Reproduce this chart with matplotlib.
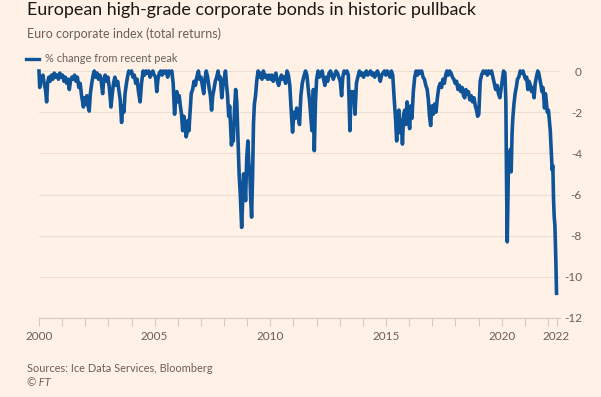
import numpy as np
import matplotlib.pyplot as plt

plt.rcParams['font.family'] = ['Lato', 'DejaVu Sans']

# decimal year and % change from recent peak
dates = [
    2000.00, 2000.03, 2000.07, 2000.12, 2000.17, 2000.22, 2000.28, 2000.33, 2000.37, 2000.42,
    2000.48, 2000.54, 2000.60, 2000.66, 2000.72, 2000.78, 2000.84, 2000.90, 2000.96,
    2001.02, 2001.08, 2001.14, 2001.20, 2001.26, 2001.31, 2001.36, 2001.42, 2001.48, 2001.54,
    2001.60, 2001.66, 2001.72, 2001.78, 2001.84, 2001.92, 2001.97,
    2002.02, 2002.07, 2002.12, 2002.17, 2002.22, 2002.28, 2002.34, 2002.39, 2002.45, 2002.51,
    2002.57, 2002.63, 2002.69, 2002.75, 2002.80, 2002.86, 2002.92, 2002.98,
    2003.04, 2003.11, 2003.16, 2003.22, 2003.28, 2003.34, 2003.40, 2003.46, 2003.51, 2003.57,
    2003.62, 2003.67, 2003.72, 2003.78, 2003.84, 2003.88, 2003.94,
    2004.00, 2004.06, 2004.12, 2004.18, 2004.24, 2004.30, 2004.37, 2004.43, 2004.50, 2004.56,
    2004.62, 2004.68, 2004.74, 2004.80, 2004.86, 2004.92, 2004.98,
    2005.04, 2005.09, 2005.14, 2005.20, 2005.26, 2005.32, 2005.38, 2005.44, 2005.50, 2005.56,
    2005.62, 2005.68, 2005.74, 2005.80, 2005.86, 2005.91, 2005.96,
    2006.01, 2006.06, 2006.11, 2006.16, 2006.21, 2006.26, 2006.31, 2006.36, 2006.40, 2006.44,
    2006.48, 2006.53, 2006.58, 2006.64, 2006.70, 2006.76, 2006.82, 2006.89, 2006.94,
    2007.00, 2007.06, 2007.12, 2007.17, 2007.23, 2007.29, 2007.35, 2007.41, 2007.46, 2007.51,
    2007.56, 2007.62, 2007.68, 2007.74, 2007.79, 2007.84, 2007.90, 2007.96,
    2008.02, 2008.06, 2008.10, 2008.15, 2008.20, 2008.24, 2008.28, 2008.32, 2008.36, 2008.40,
    2008.45, 2008.50, 2008.55, 2008.60, 2008.65, 2008.70, 2008.76, 2008.80, 2008.84, 2008.88,
    2008.93, 2008.98,
    2009.03, 2009.07, 2009.11, 2009.15, 2009.19, 2009.23, 2009.27, 2009.31, 2009.36, 2009.41,
    2009.47, 2009.53, 2009.58, 2009.64, 2009.70, 2009.76, 2009.82, 2009.88, 2009.94,
    2010.00, 2010.06, 2010.12, 2010.18, 2010.24, 2010.30, 2010.36, 2010.42, 2010.48, 2010.54,
    2010.60, 2010.66, 2010.72, 2010.78, 2010.84, 2010.90, 2010.96,
    2011.02, 2011.08, 2011.14, 2011.20, 2011.26, 2011.32, 2011.38, 2011.44, 2011.52, 2011.58,
    2011.64, 2011.70, 2011.76, 2011.80, 2011.84, 2011.86, 2011.90, 2011.95,
    2012.00, 2012.06, 2012.12, 2012.18, 2012.24, 2012.30, 2012.36, 2012.42, 2012.48, 2012.54,
    2012.60, 2012.66, 2012.72, 2012.78, 2012.84, 2012.90, 2012.96,
    2013.02, 2013.08, 2013.13, 2013.19, 2013.25, 2013.31, 2013.37, 2013.44, 2013.49, 2013.54,
    2013.60, 2013.66, 2013.72, 2013.78, 2013.85, 2013.91, 2013.97,
    2014.03, 2014.09, 2014.15, 2014.21, 2014.27, 2014.33, 2014.39, 2014.45, 2014.51, 2014.57,
    2014.63, 2014.69, 2014.75, 2014.81, 2014.87, 2014.93, 2014.99,
    2015.05, 2015.11, 2015.17, 2015.23, 2015.29, 2015.35, 2015.41, 2015.46, 2015.51, 2015.56,
    2015.61, 2015.66, 2015.71, 2015.76, 2015.81, 2015.86, 2015.91, 2015.96,
    2016.02, 2016.07, 2016.12, 2016.18, 2016.24, 2016.30, 2016.36, 2016.42, 2016.48, 2016.54,
    2016.60, 2016.66, 2016.72, 2016.78, 2016.83, 2016.88, 2016.93, 2016.98,
    2017.04, 2017.10, 2017.16, 2017.22, 2017.28, 2017.34, 2017.40, 2017.46, 2017.52, 2017.58,
    2017.63, 2017.69, 2017.75, 2017.81, 2017.87, 2017.93, 2017.99,
    2018.05, 2018.11, 2018.17, 2018.23, 2018.29, 2018.35, 2018.40, 2018.45, 2018.50, 2018.56,
    2018.62, 2018.68, 2018.74, 2018.80, 2018.86, 2018.91, 2018.96,
    2019.01, 2019.07, 2019.13, 2019.20, 2019.26, 2019.32, 2019.38, 2019.44, 2019.50, 2019.56,
    2019.62, 2019.68, 2019.74, 2019.80, 2019.86, 2019.92, 2019.97,
    2020.03, 2020.08, 2020.14, 2020.18, 2020.21, 2020.24, 2020.27, 2020.30, 2020.34, 2020.38,
    2020.41, 2020.45, 2020.48, 2020.53, 2020.58, 2020.63, 2020.68, 2020.74, 2020.80, 2020.86,
    2020.92, 2020.97,
    2021.03, 2021.08, 2021.13, 2021.18, 2021.24, 2021.29, 2021.35, 2021.40, 2021.45, 2021.50,
    2021.56, 2021.60, 2021.65, 2021.70, 2021.74, 2021.78, 2021.82, 2021.85, 2021.89, 2021.93,
    2021.97,
    2022.02, 2022.06, 2022.10, 2022.14, 2022.18, 2022.21, 2022.24, 2022.27, 2022.30, 2022.34,
    2022.37,
]
drawdown = [
    0.0, -0.8, -0.3, -0.5, -0.2, -0.6, -0.9, -1.5, -0.6, -0.3,
    -0.5, -0.2, -0.4, -0.1, -0.3, -0.2, -0.4, -0.1, -0.3,
    -0.2, -0.5, -0.3, -0.6, -0.4, -0.9, -0.5, -0.3, -0.4, -0.2,
    -0.5, -0.3, -0.8, -0.6, -1.2, -1.75, -1.3,
    -1.6, -1.2, -1.7, -1.95, -1.1, -0.6, -0.2, 0.0, -0.3, -0.1,
    -0.4, -0.2, -0.5, -1.1, -0.4, -0.2, -0.5, -0.3,
    -0.8, -1.75, -1.2, -0.6, -0.3, -0.7, -0.5, -1.0, -1.4, -2.5,
    -1.7, -2.0, -1.1, -0.6, -0.2, 0.0, -0.1,
    0.0, -0.3, -0.2, -0.6, -0.4, -1.0, -1.5, -0.6, 0.0, -0.2,
    0.0, -0.1, 0.0, -0.3, -0.1, 0.0, -0.2,
    -0.3, -1.0, -0.4, -0.1, 0.0, -0.2, 0.0, -0.1, 0.0, -0.3,
    0.0, -0.1, 0.0, -0.6, -2.1, -1.3, -1.0,
    -1.5, -1.2, -1.7, -2.1, -2.9, -2.2, -2.6, -3.2, -3.0, -2.4,
    -2.9, -2.0, -1.1, -0.9, -0.5, -0.7, -0.3, 0.0, -0.4,
    -0.3, -0.7, -1.1, -0.4, 0.0, -0.3, -0.8, -1.2, -1.9, -1.2,
    -0.9, -0.5, -0.3, 0.0, -0.4, -0.3, -1.3, -0.6,
    -0.3, 0.0, -0.6, -1.2, -2.2, -1.7, -2.6, -3.6, -2.9, -3.4,
    -1.9, -0.9, -1.5, -3.2, -5.0, -6.0, -7.6, -6.4, -5.0, -5.3,
    -6.3, -4.2,
    -3.4, -4.5, -4.9, -6.2, -7.1, -5.2, -2.6, -1.6, -1.2, -0.5,
    0.0, -0.3, -0.1, -0.4, 0.0, -0.3, -0.2, -0.4, -0.2,
    -0.4, -0.2, -0.5, -0.3, -0.1, -0.5, -0.7, -0.4, -0.2, -0.4,
    -0.3, -0.6, 0.0, -0.2, -0.7, -1.9, -2.97,
    -2.0, -2.3, -1.8, -2.2, -2.6, -1.2, -0.6, -0.3, 0.0, -0.2,
    -0.9, -1.5, -2.4, -2.9, -1.9, -0.9, -3.87, -1.5,
    -0.4, 0.0, -0.3, -0.1, 0.0, -0.4, -0.7, -0.3, -0.5, -0.1,
    0.0, -0.2, -0.4, -0.2, 0.0, -0.1, -0.3,
    -0.5, -1.2, -0.3, 0.0, -0.1, 0.0, -0.2, -2.9, -1.0, -1.3,
    -1.0, -2.1, -0.6, -0.3, 0.0, -0.2, -0.1,
    -0.3, -0.1, 0.0, -0.2, -0.1, 0.0, -0.2, -0.1, -0.3, -0.1,
    0.0, -0.2, -0.5, -0.2, -0.1, 0.0, -0.2,
    0.0, -0.1, -0.3, 0.0, -0.2, -1.3, -2.3, -3.4, -2.0, -1.9,
    -3.0, -2.4, -3.55, -2.1, -1.9, -2.6, -1.5, -2.0,
    -2.8, -1.7, -2.3, -1.0, -0.3, 0.0, -0.2, 0.0, -0.1, 0.0,
    -0.3, -0.4, -0.7, -0.9, -1.4, -2.2, -2.65, -1.7,
    -2.1, -1.6, -2.0, -1.3, -0.8, -0.6, -0.8, -0.4, -0.6, -0.2,
    0.0, -0.2, 0.0, -0.1, -0.3, -0.4, -0.6,
    -0.5, -0.9, -0.7, -1.0, -0.8, -1.2, -1.3, -0.9, -1.1, -1.0,
    -1.4, -1.2, -1.5, -1.3, -1.7, -1.9, -2.2,
    -2.1, -0.5, -0.2, 0.0, -0.1, 0.0, -0.2, 0.0, -0.1, 0.0,
    -0.3, -0.6, -0.9, -0.7, -1.1, -1.3, -0.9,
    -0.4, 0.0, -0.1, -1.5, -5.5, -8.3, -6.0, -4.0, -4.2, -3.8,
    -4.9, -3.0, -2.3, -1.6, -1.1, -0.8, -0.4, -0.3, 0.0, -0.1,
    0.0, -0.2,
    -0.4, -0.3, -0.9, -0.5, -0.7, -1.0, -0.8, -1.3, -0.6, -0.3,
    0.0, -0.1, -0.4, -0.7, -1.0, -0.8, -1.3, -1.8, -1.1, -1.5,
    -2.0,
    -1.9, -2.4, -2.9, -3.8, -4.8, -4.6, -6.2, -7.1, -7.5, -9.2,
    -10.8,
]

y_ticks = [0, -2, -4, -6, -8, -10, -12]
x_label_pos = [2000, 2005, 2010, 2015, 2020, 2022.37]
x_labels = ['2000', '2005', '2010', '2015', '2020', '2022']

bg = '#fff1e5'
grey = '#66605c'

fig = plt.figure(figsize=(6.01, 3.97), dpi=100, facecolor=bg)
ax = fig.add_axes([39 / 601, 1 - 318 / 397, (560 - 39) / 601, (318 - 71) / 397])
ax.set_facecolor(bg)

ax.plot(dates, drawdown, color='#0f5499', lw=2.6, clip_on=False, zorder=3,
        solid_joinstyle='round')

ax.set_xlim(2000, 2022.52)
ax.set_ylim(-12, 0)

for s in ['top', 'left', 'right']:
    ax.spines[s].set_visible(False)
ax.spines['bottom'].set_color('#d6cbc1')
ax.spines['bottom'].set_linewidth(0.8)

ax.yaxis.tick_right()
ax.set_yticks(y_ticks)
ax.set_yticklabels([str(v) for v in y_ticks])
ax.tick_params(axis='y', length=0, pad=15.8, labelsize=8.5, labelcolor=grey)
for lab in ax.get_yticklabels():
    lab.set_horizontalalignment('right')
ax.grid(axis='y', color='#ebdfd4', lw=0.8)

ax.set_xticks(x_label_pos)
ax.set_xticklabels(x_labels)
ax.set_xticks(range(2000, 2023), minor=True)
ax.tick_params(axis='x', which='both', length=6, width=0.8, color='#d6cbc1',
               labelsize=8.5, labelcolor=grey, pad=3.5)

fig.text(27 / 601, 1 - 10 / 397, 'European high-grade corporate bonds in historic pullback',
         fontsize=12.9, color='#1a1817', va='center')
fig.text(27 / 601, 1 - 34 / 397, 'Euro corporate index (total returns)',
         fontsize=9, color=grey, va='center')
fig.lines.append(plt.Line2D([26 / 601, 39 / 601], [1 - 58.5 / 397, 1 - 58.5 / 397],
                            transform=fig.transFigure, color='#0f5499', lw=2.4))
fig.text(45 / 601, 1 - 59 / 397, '% change from recent peak',
         fontsize=7.9, color=grey, va='center')
fig.text(27 / 601, 1 - 368 / 397, 'Sources: Ice Data Services, Bloomberg',
         fontsize=7.9, color=grey, va='center')
fig.text(27 / 601, 1 - 382 / 397, '© FT', fontsize=7.9, color=grey, va='center',
         style='italic')

fig.savefig('out.png', dpi=100, facecolor=bg)
